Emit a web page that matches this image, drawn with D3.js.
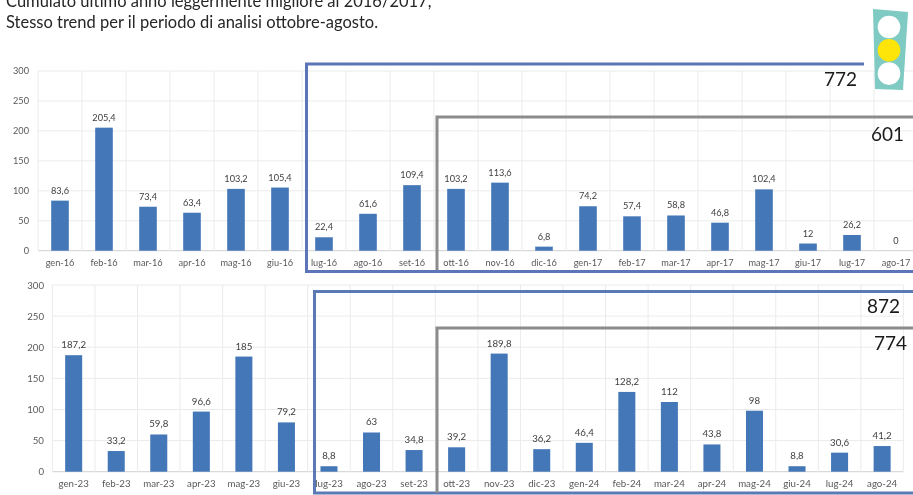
<!DOCTYPE html>
<html><head><meta charset="utf-8">
<script src="https://cdn.jsdelivr.net/npm/d3@7"></script>
<style>
html,body{margin:0;padding:0;background:#fff;overflow:hidden}
svg{display:block;filter:blur(0.5px)}
text{font-family:Lato,"Open Sans",sans-serif}
</style></head><body>
<svg id="c" width="913" height="495"></svg>
<script>
const catsTop = ["gen-16","feb-16","mar-16","apr-16","mag-16","giu-16","lug-16","ago-16","set-16","ott-16","nov-16","dic-16","gen-17","feb-17","mar-17","apr-17","mag-17","giu-17","lug-17","ago-17"];
const valsTop = [83.6,205.4,73.4,63.4,103.2,105.4,22.4,61.6,109.4,103.2,113.6,6.8,74.2,57.4,58.8,46.8,102.4,12,26.2,0];
const catsBottom = ["gen-23","feb-23","mar-23","apr-23","mag-23","giu-23","lug-23","ago-23","set-23","ott-23","nov-23","dic-23","gen-24","feb-24","mar-24","apr-24","mag-24","giu-24","lug-24","ago-24"];
const valsBottom = [187.2,33.2,59.8,96.6,185,79.2,8.8,63,34.8,39.2,189.8,36.2,46.4,128.2,112,43.8,98,8.8,30.6,41.2];
const yTicks = [0,50,100,150,200,250,300];
const titleLines = ["Cumulato ultimo anno leggermente migliore al 2016/2017,","Stesso trend per il periodo di analisi ottobre-agosto."];

const svg = d3.select("#c");
const fmt = v => String(v).replace(".",",");

function chart(cats, vals, L, R, T, B, tickX, catY, fs){
  const g = svg.append("g");
  const x = d3.scaleBand().domain(cats).range([L,R]).paddingInner(0).paddingOuter(0);
  const y = d3.scaleLinear().domain([0,300]).range([B,T]);
  g.selectAll("line.h").data(yTicks).join("line").attr("class","h")
    .attr("x1",L).attr("x2",R).attr("y1",d=>y(d)).attr("y2",d=>y(d))
    .attr("stroke",d=>d===0?"#d0d0d0":"#ebebeb").attr("stroke-width",1);
  const edges = cats.map(c=>x(c)).concat([R]);
  g.selectAll("line.v").data(edges).join("line").attr("class","v")
    .attr("x1",d=>d).attr("x2",d=>d).attr("y1",T).attr("y2",B)
    .attr("stroke","#ebebeb").attr("stroke-width",1);
  const bw = x.bandwidth()*0.4;
  g.selectAll("rect.bar").data(cats).join("rect").attr("class","bar")
    .attr("x",c=>x(c)+x.bandwidth()/2-bw/2).attr("width",bw)
    .attr("y",(c,i)=>y(vals[i])).attr("height",(c,i)=>y(0)-y(vals[i]))
    .attr("fill","#4377b8");
  g.selectAll("text.val").data(cats).join("text").attr("class","val")
    .attr("x",c=>x(c)+x.bandwidth()/2).attr("y",(c,i)=>y(vals[i])-7)
    .attr("text-anchor","middle").attr("font-size",fs).attr("fill","#404040")
    .text((c,i)=>fmt(vals[i]));
  const ay = g.append("g").attr("transform",`translate(${tickX},0)`)
    .call(d3.axisLeft(y).tickValues(yTicks).tickSize(0).tickPadding(0));
  ay.select(".domain").remove();
  ay.selectAll("text").attr("font-size",fs).attr("fill","#595959").style("font-family","Lato");
  const ax = g.append("g").attr("transform",`translate(0,${catY})`)
    .call(d3.axisBottom(x).tickSize(0).tickPadding(0));
  ax.select(".domain").remove();
  ax.selectAll("text").attr("font-size",fs).attr("fill","#595959").style("font-family","Lato");
}

chart(catsTop, valsTop, 38, 918, 71, 250.7, 29, 259, 9.2);
chart(catsBottom, valsBottom, 52.4, 903.4, 285, 471.7, 44, 480, 9.7);

function frame(pts, col, w){
  svg.append("path").attr("d",d3.line()(pts)).attr("fill","none").attr("stroke",col).attr("stroke-width",w);
}
frame([[864,64],[306.5,64],[306.5,271.5],[913,271.5]],"#5b75b8",3);
frame([[913,117],[437,117],[437,270]],"#8c8c8c",3);
frame([[913,291.5],[314.5,291.5],[314.5,493],[913,493]],"#5b79b4",3);
frame([[913,328],[437,328],[437,493]],"#8c8c8c",3);

const totals = [["772",857,86],["601",904,141],["872",900,313],["774",907,350]];
svg.selectAll("text.tot").data(totals).join("text").attr("class","tot")
  .attr("x",d=>d[1]).attr("y",d=>d[2]).attr("text-anchor","end")
  .attr("font-size",19).attr("fill","#1a1a1a").text(d=>d[0]);

svg.selectAll("text.ttl").data(titleLines).join("text").attr("class","ttl")
  .attr("x",6).attr("y",(d,i)=>7+i*21).attr("font-size",16.5).attr("fill","#262626").text(d=>d);

svg.append("path").attr("d",d3.line()([[873,9],[908,12],[903,90],[875,89]])+"Z").attr("fill","#7fcac3");
svg.selectAll("circle.l").data(["#ffffff","#fde50a","#ffffff"]).join("circle").attr("class","l")
  .attr("cx",889).attr("cy",(d,i)=>27+i*23.3).attr("r",11.3).attr("fill",d=>d);
</script>
</body></html>
